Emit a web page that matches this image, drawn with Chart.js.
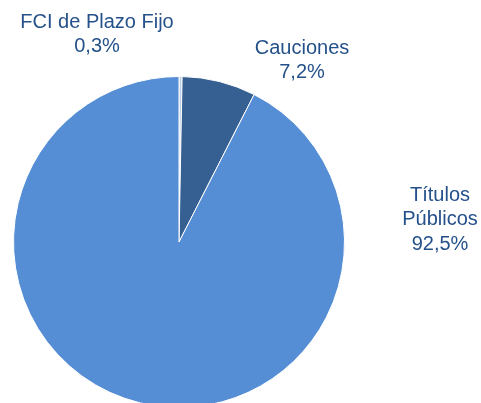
<!DOCTYPE html>
<html lang="es">
<head>
    <meta charset="UTF-8">
    <title>Composición</title>
    <script src="https://cdn.jsdelivr.net/npm/chart.js"></script>
    <style>
        html, body { margin: 0; padding: 0; background: #fff; overflow: hidden; }
        #wrap { width: 481px; height: 403px; overflow: hidden; }
    </style>
</head>
<body>
    <div id="wrap"><canvas id="pieChart" width="481" height="420"></canvas></div>
    <script>
        // datos
        const categories = ['FCI de Plazo Fijo', 'Cauciones', 'Títulos Públicos'];
        const shares = [0.3, 7.2, 92.5];
        const sliceColors = ['#B9CDE5', '#376092', '#558ED5'];

        // donde va cada etiqueta (centro del texto) y cómo se parte
        const labelLines = [['FCI de Plazo Fijo'], ['Cauciones'], ['Títulos', 'Públicos']];
        const labelPos = [[97, 22], [302, 48], [440, 195]];

        const fmt = v => v.toFixed(1).replace('.', ',') + '%';

        const labelPlugin = {
            id: 'sliceLabels',
            afterDraw(chart) {
                const c = chart.ctx;
                const vals = chart.data.datasets[0].data;
                c.save();
                c.font = '20px "Liberation Sans", Arial, sans-serif';
                c.fillStyle = '#25518A';
                c.textAlign = 'center';
                c.textBaseline = 'middle';
                vals.forEach((v, i) => {
                    const lines = labelLines[i].concat([fmt(v)]);
                    const [x, y] = labelPos[i];
                    lines.forEach((t, k) => c.fillText(t, x, y + k * 24.5));
                });
                c.restore();
            }
        };

        const ctx = document.getElementById('pieChart').getContext('2d');
        new Chart(ctx, {
            type: 'pie',
            data: {
                labels: categories,
                datasets: [{
                    data: shares,
                    backgroundColor: sliceColors,
                    borderColor: '#ffffff',
                    borderWidth: 1
                }]
            },
            options: {
                responsive: false,
                animation: false,
                devicePixelRatio: 1,
                layout: { padding: { left: 13, right: 136, top: 76, bottom: 12 } },
                plugins: {
                    legend: { display: false },
                    tooltip: { enabled: false }
                }
            },
            plugins: [labelPlugin]
        });
    </script>
</body>
</html>
